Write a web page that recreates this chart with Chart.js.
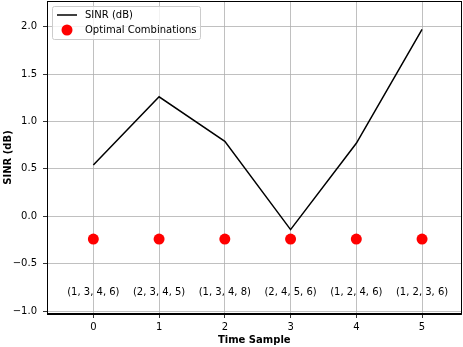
<!DOCTYPE html>
<html>
<head>
<meta charset="utf-8">
<script src="https://cdn.jsdelivr.net/npm/chart.js@4.4.1/dist/chart.umd.min.js"></script>
<style>
  html, body { margin: 0; padding: 0; background: #fff; }
  #wrap { width: 463px; height: 347px; }
</style>
</head>
<body>
<div id="wrap"><canvas id="chart" width="463" height="347"></canvas></div>
<script>
// data
const timeSamples = [0, 1, 2, 3, 4, 5];
const sinrValues = [0.54, 1.26, 0.79, -0.14, 0.77, 1.97];
const optimalMarkerY = [-0.24, -0.24, -0.24, -0.24, -0.24, -0.24];
const combinations = ['(1, 3, 4, 6)', '(2, 3, 4, 5)', '(1, 3, 4, 8)', '(2, 4, 5, 6)', '(1, 2, 4, 6)', '(1, 2, 3, 6)'];
const labelY = -0.80;
const yTicks = [-1.0, -0.5, 0.0, 0.5, 1.0, 1.5, 2.0];
const xTicks = [0, 1, 2, 3, 4, 5];

const FONT = 'DejaVu Sans';

function minus(v, digits) {
    return v.toFixed(digits).replace('-', '\u2212');
}

// draws the frame, the combination labels and a matplotlib-like legend
const extras = {
    id: 'extras',
    afterDatasetsDraw(chart) {
        const ctx = chart.ctx;
        const a = chart.chartArea;
        const xs = chart.scales.x, ys = chart.scales.y;
        ctx.save();

        // combination text under each marker
        ctx.fillStyle = '#000';
        ctx.font = '10px "' + FONT + '"';
        ctx.textAlign = 'center';
        ctx.textBaseline = 'middle';
        combinations.forEach((c, i) => {
            ctx.fillText(c, xs.getPixelForValue(timeSamples[i]), ys.getPixelForValue(labelY));
        });

        // frame
        ctx.strokeStyle = '#000';
        ctx.lineWidth = 1;
        ctx.strokeRect(Math.round(a.left) + 0.5, Math.round(a.top) + 0.5,
            Math.round(a.right - a.left) - 1, Math.round(a.bottom - a.top) - 1);

        // legend
        const lx = a.left + 5, ly = a.top + 5, lw = 148, lh = 33;
        ctx.fillStyle = 'rgba(255,255,255,0.8)';
        ctx.strokeStyle = '#cccccc';
        ctx.lineWidth = 1;
        ctx.beginPath();
        ctx.roundRect(lx + 0.5, ly + 0.5, lw, lh, 2);
        ctx.fill();
        ctx.stroke();

        ctx.textAlign = 'left';
        ctx.fillStyle = '#000';
        ctx.strokeStyle = '#000';
        ctx.lineWidth = 1.5;
        ctx.beginPath();
        ctx.moveTo(lx + 5, ly + 9);
        ctx.lineTo(lx + 25, ly + 9);
        ctx.stroke();
        ctx.fillText(chart.data.datasets[0].label, lx + 33, ly + 9);

        ctx.fillStyle = '#ff0000';
        ctx.beginPath();
        ctx.arc(lx + 15, ly + 24, 5.5, 0, Math.PI * 2);
        ctx.fill();
        ctx.fillStyle = '#000';
        ctx.fillText(chart.data.datasets[1].label, lx + 33, ly + 24);

        ctx.restore();
    }
};

new Chart(document.getElementById('chart').getContext('2d'), {
    type: 'scatter',
    data: {
        datasets: [
            {
                label: 'SINR (dB)',
                type: 'line',
                data: timeSamples.map((t, i) => ({ x: t, y: sinrValues[i] })),
                borderColor: '#000',
                borderWidth: 1.5,
                pointRadius: 0,
                fill: false,
                tension: 0,
                order: 2
            },
            {
                label: 'Optimal Combinations',
                data: timeSamples.map((t, i) => ({ x: t, y: optimalMarkerY[i] })),
                backgroundColor: '#ff0000',
                borderWidth: 0,
                pointRadius: 5.5,
                order: 1
            }
        ]
    },
    options: {
        responsive: false,
        animation: false,
        layout: { autoPadding: false, padding: { top: 1, right: 1.5, left: 0, bottom: 0 } },
        plugins: {
            legend: { display: false },
            tooltip: { enabled: false }
        },
        scales: {
            x: {
                type: 'linear',
                min: -0.705,
                max: 5.6,
                afterBuildTicks: s => { s.ticks = xTicks.map(v => ({ value: v })); },
                afterFit: s => { s.height = 33; s.paddingLeft = 0; s.paddingRight = 0; },
                grid: { color: '#b0b0b0', lineWidth: 0.8, tickColor: '#000', tickLength: 4 },
                border: { display: true, color: '#000', width: 1 },
                ticks: {
                    color: '#000',
                    font: { family: FONT, size: 10 },
                    padding: 3,
                    maxRotation: 0,
                    callback: v => String(v)
                },
                title: {
                    display: true,
                    text: 'Time Sample',
                    color: '#000',
                    font: { family: FONT, size: 10, weight: 'bold' },
                    padding: { top: 0, bottom: 1 }
                }
            },
            y: {
                type: 'linear',
                min: -1.03,
                max: 2.27,
                afterBuildTicks: s => { s.ticks = yTicks.map(v => ({ value: v })); },
                afterFit: s => { s.width = 47; s.paddingTop = 0; s.paddingBottom = 0; },
                grid: { color: '#b0b0b0', lineWidth: 0.8, tickColor: '#000', tickLength: 4 },
                border: { display: true, color: '#000', width: 1 },
                ticks: {
                    color: '#000',
                    font: { family: FONT, size: 10 },
                    padding: 6,
                    callback: v => minus(v, 1)
                },
                title: {
                    display: true,
                    text: 'SINR (dB)',
                    color: '#000',
                    font: { family: FONT, size: 10, weight: 'bold' },
                    padding: { top: 2, bottom: 0 }
                }
            }
        }
    },
    plugins: [extras]
});
</script>
</body>
</html>
